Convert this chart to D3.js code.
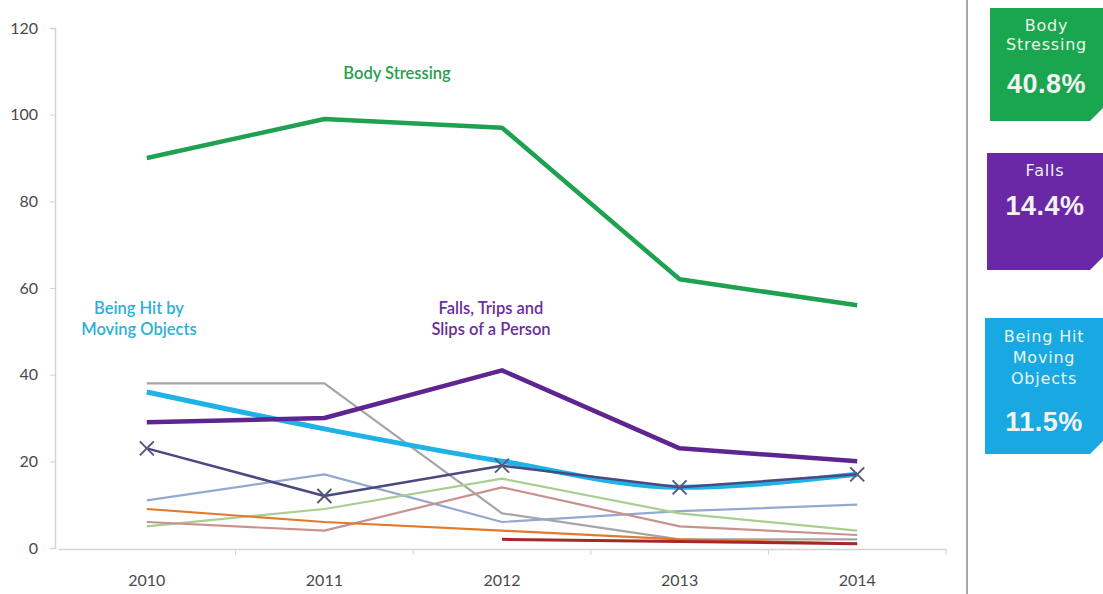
<!DOCTYPE html>
<html><head><meta charset="utf-8">
<script src="https://cdn.jsdelivr.net/npm/d3@7"></script>
<style>body{margin:0;background:#fff}svg{display:block}</style>
</head><body>
<svg id="c" width="1103" height="594"></svg>
<script>
const years = ["2010","2011","2012","2013","2014"];
const yTicks = [0,20,40,60,80,100,120];
const bodyStressing = [90,99,97,62,56];
const falls = [29,30,41,23,20];
const beingHit = [36,27.5,20,14,17];
const markedSeries = [23,12,19,14,17];
const grayS = [38,38,8,2,2];
const blueGrayS = [11,17,6,8.5,10];
const lightGreenS = [5,9,16,8,4];
const pinkS = [6,4,14,5,3];
const orangeS = [9,6,4,2,1];
const darkRedS = [null,null,2,1.5,1];
const boxTitles = [["Body","Stressing"],["Falls"],["Being Hit","Moving","Objects"]];
const boxValues = ["40.8%","14.4%","11.5%"];

const svg = d3.select("#c");
const x = d3.scaleBand().domain(years).range([58,946]);
const cx = d => x(d) + x.bandwidth()/2;
const y = d3.scaleLinear().domain([0,120]).range([548,28]);

const yAxis = svg.append("g").attr("transform","translate(55,0)")
  .call(d3.axisLeft(y).tickValues(yTicks).tickSize(5).tickPadding(12));
yAxis.select(".domain").attr("stroke","#d4d4d4").attr("stroke-width",1.5);
yAxis.selectAll(".tick line").attr("stroke","#d4d4d4");
yAxis.selectAll("text").attr("fill","#4a4a4a").style("font-family","Lato").style("font-size","16px");

const xAxis = svg.append("g").attr("transform","translate(0,549)")
  .call(d3.axisBottom(x).tickSize(0).tickPadding(26));
xAxis.select(".domain").attr("stroke","#d4d4d4").attr("stroke-width",1.5);
xAxis.selectAll("text").attr("fill","#4a4a4a").style("font-family","Lato").style("font-size","16px");
svg.append("g").selectAll("line").data(years).join("line")
  .attr("x1",d=>x(d)+x.bandwidth()).attr("x2",d=>x(d)+x.bandwidth())
  .attr("y1",549).attr("y2",555).attr("stroke","#d4d4d4");

const series = [
  {v:grayS, c:"#a5a5a5", w:2.2},
  {v:blueGrayS, c:"#93a9d0", w:2.2},
  {v:lightGreenS, c:"#a9cf90", w:2.2},
  {v:pinkS, c:"#c9928e", w:2.2},
  {v:orangeS, c:"#e27a2c", w:2.2},
  {v:darkRedS, c:"#a52828", w:3},
  {v:beingHit, c:"#1fb2e6", w:5, curve:d3.curveMonotoneX},
  {v:markedSeries, c:"#4a4a80", w:2.5, marker:true},
  {v:falls, c:"#5e2590", w:4.5},
  {v:bodyStressing, c:"#1ea150", w:4.5}
];
series.forEach(s=>{
  const pts = years.map((yr,i)=>({yr, v:s.v[i]}));
  const line = d3.line().defined(p=>p.v!=null).x(p=>cx(p.yr)).y(p=>y(p.v)).curve(s.curve||d3.curveLinear);
  svg.append("path").attr("d",line(pts)).attr("fill","none")
    .attr("stroke",s.c).attr("stroke-width",s.w).attr("stroke-linejoin","round");
  if(s.marker){
    const r=7;
    svg.append("g").selectAll("path").data(pts).join("path")
      .attr("d",p=>{const X=cx(p.yr),Y=y(p.v);return `M${X-r},${Y-r}L${X+r},${Y+r}M${X-r},${Y+r}L${X+r},${Y-r}`;})
      .attr("stroke","#57587f").attr("stroke-width",2).attr("fill","none");
  }
});

const ann = [
  {t:["Body Stressing"], x:397, y:79, c:"#27a050"},
  {t:["Being Hit by","Moving Objects"], x:139, y:314, c:"#2cb0d8"},
  {t:["Falls, Trips and","Slips of a Person"], x:491, y:314, c:"#6b2e9b"}
];
ann.forEach(a=>{
  const t = svg.append("text").attr("x",a.x).attr("y",a.y).attr("text-anchor","middle")
    .attr("fill",a.c).style("font-family","Lato").style("font-size","16.5px").style("font-weight","600");
  a.t.forEach((ln,i)=>t.append("tspan").attr("x",a.x).attr("dy",i?21:0).text(ln));
});

svg.append("line").attr("x1",967).attr("x2",967).attr("y1",0).attr("y2",594)
  .attr("stroke","#a8a8a8").attr("stroke-width",2);

const boxes = [
  {x0:990, y0:8, y1:121, c:"#1aa64f", titleY:[31,50], valY:93},
  {x0:987, y0:153, y1:270, c:"#6a28a6", titleY:[176], valY:215},
  {x0:985, y0:318, y1:454, c:"#18a8e2", titleY:[342,363,384], valY:431}
];
const x1 = 1103, cut = 13;
boxes.forEach((b,i)=>{
  svg.append("path").attr("d",`M${b.x0},${b.y0}H${x1}V${b.y1-cut}L${x1-cut},${b.y1}H${b.x0}Z`).attr("fill",b.c);
  const mid = (b.x0+x1)/2;
  boxTitles[i].forEach((ln,j)=>{
    svg.append("text").attr("x",mid).attr("y",b.titleY[j]).attr("text-anchor","middle")
      .attr("fill","#e8f5ea").style("font-family","DejaVu Sans").style("font-size","16px")
      .style("letter-spacing","0.8px").text(ln);
  });
  svg.append("text").attr("x",mid).attr("y",b.valY).attr("text-anchor","middle")
    .attr("fill","#f2f2f2").style("font-family","Liberation Sans").style("font-weight","bold")
    .style("font-size","27px").style("letter-spacing","0.5px").text(boxValues[i]);
});
</script>
</body></html>
